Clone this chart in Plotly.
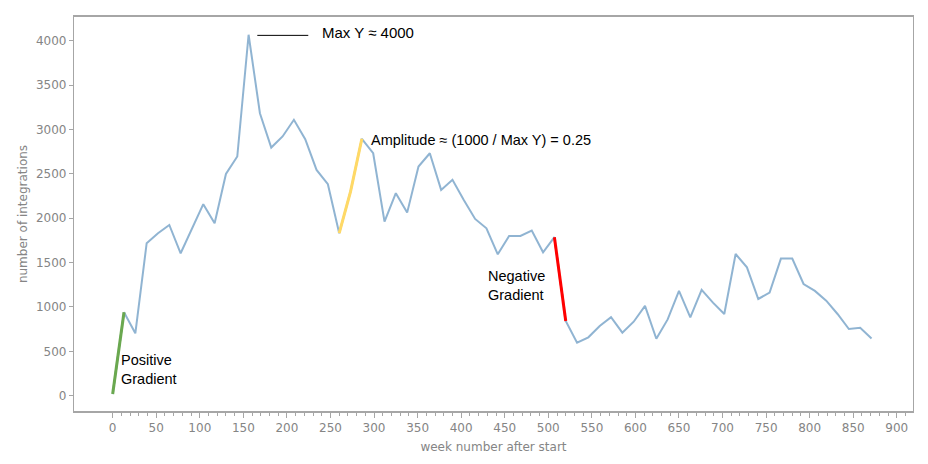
import plotly.graph_objects as go

weeks = [0, 13, 26, 39, 52, 65, 78, 91, 104, 117, 130, 143, 156, 169, 182, 195, 208, 221,
         234, 247, 260, 273, 286, 299, 312, 325, 338, 351, 364, 377, 390, 403, 416, 429,
         442, 455, 468, 481, 494, 507, 520, 533, 546, 559, 572, 585, 598, 611, 624, 637,
         650, 663, 676, 689, 702, 715, 728, 741, 754, 767, 780, 793, 806, 819, 832, 845,
         858, 871]
integrations = [19, 940, 703, 1718, 1831, 1924, 1605, 1887, 2158, 1943, 2499, 2695, 4067,
                3183, 2796, 2921, 3109, 2891, 2544, 2383, 1831, 2300, 2895, 2732, 1962, 2282,
                2063, 2582, 2732, 2319, 2432, 2206, 1992, 1887, 1593, 1801, 1801, 1860, 1616,
                1786, 842, 598, 658, 786, 884, 711, 834, 1012, 642, 860, 1181, 884, 1192,
                1049, 921, 1597, 1447, 1090, 1162, 1545, 1545, 1259, 1181, 1071, 921, 752,
                766, 645]

# highlighted segments: (start index, end index, colour)
segments = [(0, 1, "#6aa84f"), (20, 22, "#ffd966"), (39, 40, "#ff0000")]

x_ticks = [0, 50, 100, 150, 200, 250, 300, 350, 400, 450, 500, 550, 600, 650, 700, 750,
           800, 850, 900]
y_ticks = [0, 500, 1000, 1500, 2000, 2500, 3000, 3500, 4000]
minor_x_ticks = list(range(0, 911, 10))

fig = go.Figure()
fig.add_trace(go.Scatter(x=weeks, y=integrations, mode="lines",
                         line=dict(color="rgba(70,130,180,0.6)", width=2),
                         hoverinfo="skip", showlegend=False))
for a, b, c in segments:
    fig.add_trace(go.Scatter(x=weeks[a:b + 1], y=integrations[a:b + 1], mode="lines",
                             line=dict(color=c, width=3), showlegend=False))

tick_font = dict(family="DejaVu Sans", size=12, color="#858585")
axis_col = "#a6a6a6"

fig.update_layout(
    width=928, height=464,
    margin=dict(l=74, r=15, t=17, b=53),
    paper_bgcolor="white", plot_bgcolor="white",
    xaxis=dict(range=[-44.4, 918.6], tickvals=x_ticks, ticks="outside", ticklen=5,
               tickcolor=axis_col, tickfont=tick_font, showgrid=False, zeroline=False,
               showline=True, linecolor=axis_col, linewidth=1.5, mirror=True,
               minor=dict(ticks="outside", tickvals=minor_x_ticks, ticklen=3,
                          tickcolor=axis_col),
               title=dict(text="week number after start", standoff=8,
                          font=dict(family="DejaVu Sans", size=12, color="#858585"))),
    yaxis=dict(range=[-172, 4267], tickvals=y_ticks, ticks="outside", ticklen=4,
               tickcolor=axis_col, tickfont=tick_font, showgrid=False, zeroline=False,
               showline=True, linecolor=axis_col, linewidth=1.2, mirror=True,
               title=dict(text="number of integrations", standoff=5,
                          font=dict(family="DejaVu Sans", size=12, color="#858585"))),
)

ann_font = dict(family="Liberation Sans, Arial", size=14.5, color="black")
fig.add_shape(type="line", x0=166, x1=224.5, y0=4060, y1=4060, xref="x", yref="y",
              line=dict(color="black", width=1))
fig.add_annotation(x=237.5, y=4093, text="Max Y ≈ 4000", showarrow=False,
                   xanchor="left", yanchor="middle", font=dict(ann_font, size=15))
fig.add_annotation(x=293.7, y=2883, text="Amplitude ≈ (1000 / Max Y) = 0.25", showarrow=False,
                   xanchor="left", yanchor="middle", font=ann_font)
fig.add_annotation(x=428, y=1237, text="Negative<br>Gradient", showarrow=False, align="left",
                   xanchor="left", yanchor="middle", font=ann_font)
fig.add_annotation(x=7.2, y=290, text="Positive<br>Gradient", showarrow=False, align="left",
                   xanchor="left", yanchor="middle", font=ann_font)

fig.write_html("out.html")
